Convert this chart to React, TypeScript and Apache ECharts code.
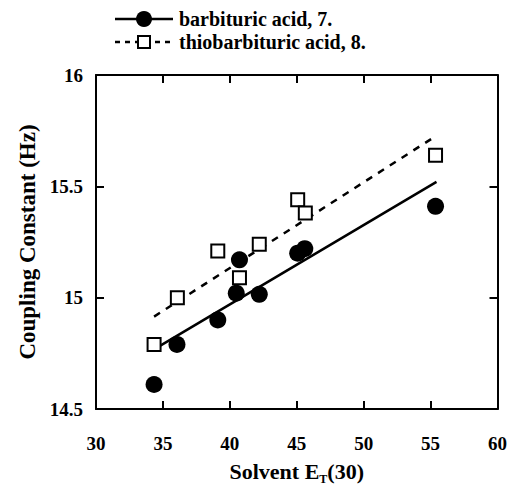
import React, { useEffect, useRef } from "react";
import * as echarts from "echarts";

const barbituricX = [34.34, 36.05, 39.1, 40.48, 40.72, 42.2, 45.07, 45.6, 55.37];
const barbituricY = [14.61, 14.79, 14.9, 15.02, 15.17, 15.015, 15.2, 15.22, 15.41];
const thioX = [34.34, 36.08, 39.1, 40.72, 42.2, 45.07, 45.64, 55.37];
const thioY = [14.79, 15.0, 15.21, 15.09, 15.24, 15.44, 15.38, 15.64];
const barbituricFitX = [34.4, 55.44];
const barbituricFitY = [14.77, 15.52];
const thioFitX = [34.34, 55.24];
const thioFitY = [14.915, 15.72];

const FONT = "'Liberation Serif', 'Times New Roman', serif";

function zip(xs: number[], ys: number[]) {
  return xs.map((x, i) => [x, ys[i]]);
}

export default function App() {
  const ref = useRef<HTMLDivElement>(null);
  useEffect(() => {
    document.body.style.margin = "0";
    if (!ref.current) return;
    const chart = echarts.init(ref.current, undefined, { renderer: "svg" });
    const axisCommon = {
      axisLine: { show: true, onZero: false, lineStyle: { color: "#000", width: 2 } },
      axisTick: { show: true, inside: true, length: 8, lineStyle: { color: "#000", width: 2 } },
      splitLine: { show: false },
    };
    chart.setOption({
      animation: false,
      backgroundColor: "#fff",
      grid: { left: 96, right: 11, top: 75, bottom: 83 },
      xAxis: [
        {
          type: "value",
          min: 30,
          max: 60,
          interval: 5,
          position: "bottom",
          ...axisCommon,
          axisLabel: { color: "#000", fontFamily: FONT, fontSize: 19, fontWeight: "bold", margin: 25 },
          name: "{a|Solvent E}{b|T}{a|(30)}",
          nameLocation: "middle",
          nameGap: 48,
          nameTextStyle: {
            rich: {
              a: { fontFamily: FONT, fontSize: 22, fontWeight: "bold", color: "#000" },
              b: { fontFamily: FONT, fontSize: 12, fontWeight: "bold", color: "#000", padding: [16, 0, 0, 0] },
            },
          },
        },
        {
          type: "value",
          min: 30,
          max: 60,
          interval: 5,
          position: "top",
          ...axisCommon,
          axisLabel: { show: false },
        },
      ],
      yAxis: [
        {
          type: "value",
          min: 14.5,
          max: 16,
          interval: 0.5,
          position: "left",
          ...axisCommon,
          axisLabel: { color: "#000", fontFamily: FONT, fontSize: 19, fontWeight: "bold", margin: 13 },
          name: "Coupling Constant (Hz)",
          nameLocation: "middle",
          nameGap: 57,
          nameTextStyle: { color: "#000", fontFamily: FONT, fontSize: 23, fontWeight: "bold" },
        },
        {
          type: "value",
          min: 14.5,
          max: 16,
          interval: 0.5,
          position: "right",
          ...axisCommon,
          axisLabel: { show: false },
        },
      ],
      series: [
        {
          type: "line",
          data: zip(barbituricFitX, barbituricFitY),
          symbol: "none",
          lineStyle: { color: "#000", width: 2.5 },
          z: 1,
        },
        {
          type: "line",
          data: zip(thioFitX, thioFitY),
          symbol: "none",
          lineStyle: { color: "#000", width: 2.5, type: [7, 7] },
          z: 1,
        },
        {
          type: "scatter",
          data: zip(thioX, thioY),
          symbol: "rect",
          symbolSize: 13,
          itemStyle: { color: "#fff", borderColor: "#000", borderWidth: 2, opacity: 1 },
          z: 3,
        },
        {
          type: "scatter",
          data: zip(barbituricX, barbituricY),
          symbol: "circle",
          symbolSize: 17,
          itemStyle: { color: "#000", opacity: 1 },
          z: 4,
        },
      ],
      graphic: [
        { type: "line", shape: { x1: 115, y1: 19, x2: 173, y2: 19 }, style: { stroke: "#000", lineWidth: 2.5 } },
        { type: "circle", shape: { cx: 144, cy: 19, r: 8 }, style: { fill: "#000" } },
        {
          type: "text",
          x: 179,
          y: 19,
          style: { text: "barbituric acid, 7.", fontFamily: FONT, fontSize: 20, fontWeight: "bold", fill: "#000", verticalAlign: "middle" },
        },
        { type: "line", shape: { x1: 115, y1: 42, x2: 173, y2: 42 }, style: { stroke: "#000", lineWidth: 2.5, lineDash: [5, 5] } },
        { type: "rect", shape: { x: 138, y: 36, width: 12, height: 12 }, style: { fill: "#fff", stroke: "#000", lineWidth: 2 } },
        {
          type: "text",
          x: 179,
          y: 42,
          style: { text: "thiobarbituric acid, 8.", fontFamily: FONT, fontSize: 20, fontWeight: "bold", fill: "#000", verticalAlign: "middle" },
        },
      ],
    });
    return () => chart.dispose();
  }, []);
  return <div ref={ref} style={{ width: 510, height: 492 }} />;
}
